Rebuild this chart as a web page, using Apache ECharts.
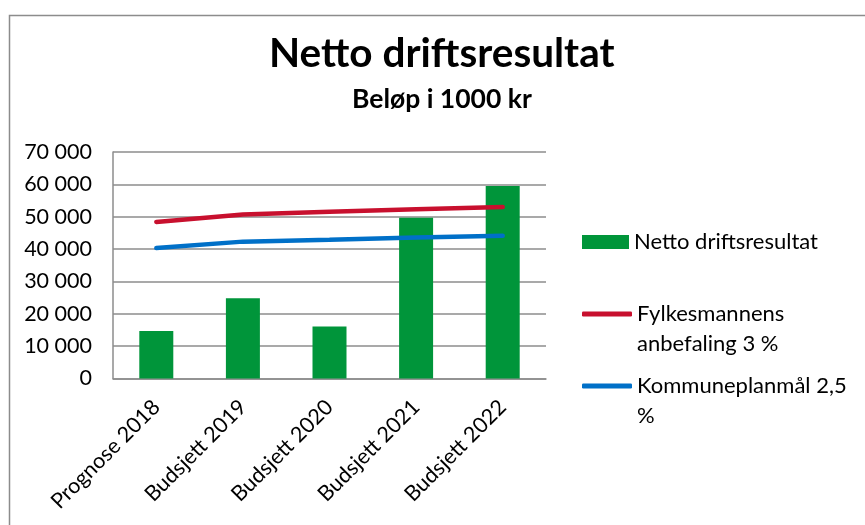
<!DOCTYPE html>
<html>
<head>
<meta charset="utf-8">
<script src="https://cdn.jsdelivr.net/npm/echarts@6/dist/echarts.min.js"></script>
<style>
html,body{margin:0;padding:0;background:#fff;}
#chart{width:865px;height:525px;}
</style>
</head>
<body>
<div id="chart"></div>
<script>
var categories = ['Prognose 2018', 'Budsjett 2019', 'Budsjett 2020', 'Budsjett 2021', 'Budsjett 2022'];
var nettoDrift = [14700, 24800, 16100, 49700, 59500];
var fylkesmann = [48400, 50700, 51500, 52300, 53000];
var kommuneplan = [40300, 42300, 42900, 43600, 44100];
var seriesNames = ['Netto driftsresultat', 'Fylkesmannens anbefaling 3 %', 'Kommuneplanmål 2,5 %'];
var legendLabels = ['Netto driftsresultat', '\nFylkesmannens\nanbefaling 3 %', '\nKommuneplanmål 2,5\n%'];
var titleText = 'Netto driftsresultat';
var subtitleText = 'Beløp i 1000 kr';
var yTicks = {min: 0, max: 70000, interval: 10000};

var FONT = 'Lato';
var chart = echarts.init(document.getElementById('chart'));

function legendFor(i, top, icon, w, h) {
  return {
    data: [seriesNames[i]],
    orient: 'vertical',
    left: 582,
    top: top,
    padding: 0,
    icon: icon,
    itemWidth: w,
    itemHeight: h,
    itemGap: 0,
    selectedMode: false,
    formatter: function () { return legendLabels[i]; },
    textStyle: {fontFamily: FONT, fontSize: 22, color: '#000', lineHeight: 30}
  };
}

chart.setOption({
  animation: false,
  backgroundColor: '#fff',
  textStyle: {fontFamily: FONT},
  title: [
    {text: titleText, left: 269, top: 33, padding: 0,
     textStyle: {fontFamily: FONT, fontSize: 40.5, fontWeight: 'bold', color: '#000'}},
    {text: subtitleText, left: 352, top: 86, padding: 0,
     textStyle: {fontFamily: FONT, fontSize: 26.5, fontWeight: 'bold', color: '#000'}}
  ],
  graphic: [{
    type: 'rect', silent: true, z: -1,
    shape: {x: 9.5, y: 15.5, width: 900, height: 600},
    style: {fill: 'none', stroke: '#8c8c8c', lineWidth: 1.5}
  }],
  legend: [
    legendFor(0, 227, 'rect', 47, 14),
    legendFor(1, 269, 'roundRect', 50, 5),
    legendFor(2, 341, 'roundRect', 50, 5)
  ],
  grid: {left: 113, right: 319, top: 152, bottom: 146.5, containLabel: false},
  xAxis: {
    type: 'category',
    data: categories,
    axisLine: {show: true, lineStyle: {color: '#8c8c8c', width: 1.5}},
    axisTick: {show: false},
    axisLabel: {interval: 0, rotate: 45, margin: 25, fontFamily: FONT, fontSize: 21.5, color: '#000'}
  },
  yAxis: {
    type: 'value',
    min: yTicks.min, max: yTicks.max, interval: yTicks.interval,
    axisLine: {show: true, lineStyle: {color: '#8c8c8c', width: 1.5}},
    axisTick: {show: false},
    splitLine: {show: true, lineStyle: {color: '#8c8c8c', width: 1.5}},
    axisLabel: {
      margin: 21, fontFamily: FONT, fontSize: 21.5, color: '#000',
      formatter: function (v) { return String(v).replace(/\B(?=(\d{3})+(?!\d))/g, ' '); }
    }
  },
  series: [
    {name: seriesNames[0], type: 'bar', data: nettoDrift, barWidth: 34,
     itemStyle: {color: '#00953A'}},
    {name: seriesNames[1], type: 'line', data: fylkesmann, showSymbol: false, symbol: 'none',
     lineStyle: {color: '#C8102E', width: 4.5, cap: 'round'}, itemStyle: {color: '#C8102E'}},
    {name: seriesNames[2], type: 'line', data: kommuneplan, showSymbol: false, symbol: 'none',
     lineStyle: {color: '#0070C8', width: 4.5, cap: 'round'}, itemStyle: {color: '#0070C8'}}
  ]
});
</script>
</body>
</html>
